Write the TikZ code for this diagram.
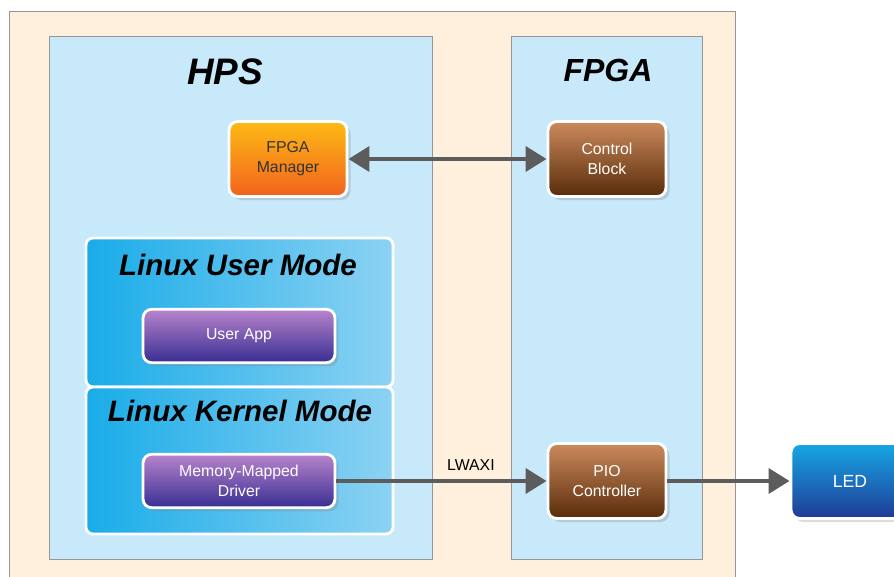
\documentclass[tikz,border=0pt]{standalone}
\usepackage{fontspec}
\setmainfont{Liberation Sans}
\usetikzlibrary{arrows.meta,shadows}
\definecolor{socbeige}{RGB}{254,240,221}
\definecolor{socsky}{RGB}{200,233,250}
\definecolor{socframe}{RGB}{150,150,150}
\definecolor{socarrow}{RGB}{92,92,92}
\definecolor{modeleft}{RGB}{25,172,232}
\definecolor{moderight}{RGB}{140,210,243}
\definecolor{mgrtop}{RGB}{253,186,20}
\definecolor{mgrbot}{RGB}{242,98,30}
\definecolor{fabtop}{RGB}{204,138,92}
\definecolor{fabbot}{RGB}{88,44,10}
\definecolor{apptop}{RGB}{184,132,204}
\definecolor{appmid}{RGB}{98,42,148}
\definecolor{appbot}{RGB}{56,46,146}
\definecolor{ledtop}{RGB}{22,168,228}
\definecolor{ledbot}{RGB}{32,58,150}

\begin{document}
\begin{tikzpicture}[x=0.02cm,y=-0.02cm,
  >={Triangle[length=12pt,width=14pt]},
  block/.style={rounded corners=5pt,draw=white,line width=1.6pt,
    minimum width=2.36cm,minimum height=1.5cm,align=center,
    text=white,font=\fontsize{9}{11.3}\selectfont,
    drop shadow={opacity=.28,shadow xshift=2pt,shadow yshift=-2pt}},
  wideblock/.style={block,minimum width=3.84cm,minimum height=1.07cm},
  title/.style={font=\bfseries\itshape\fontsize{#1}{#1}\selectfont},
  link/.style={socarrow,line width=2.8pt}]
  \path[use as bounding box,clip] (0,0) rectangle (894,577);
  % boards
  \fill[socbeige,draw=socframe] (9,11) rectangle (735,600);
  \fill[socsky,draw=socframe] (49,36) rectangle (432,559);
  \fill[socsky,draw=socframe] (511,36) rectangle (702,559);
  \node[title=21] (hps) at (225,72) {HPS};
  \node[title=18.2] (fpga) at (608,70) {FPGA};
  % linux modes
  \shade[left color=modeleft,right color=moderight,draw=white,
    line width=1.6pt,rounded corners=4pt] (86,238) rectangle (393,387);
  \shade[left color=modeleft,right color=moderight,draw=white,
    line width=1.6pt,rounded corners=4pt] (86,387) rectangle (393,534);
  \node[title=16.8] (user) at (238,265) {Linux User Mode};
  \node[title=16.8] (kernel) at (240,411) {Linux Kernel Mode};
  % blocks
  \node[block,top color=mgrtop,bottom color=mgrbot,text=black!80]
    (mgr) at (288,159) {FPGA\\Manager};
  \node[block,top color=fabtop,bottom color=fabbot]
    (ctrl) at (607,159) {Control\\Block};
  \node[wideblock,top color=apptop,middle color=appmid,bottom color=appbot]
    (app) at (239,336) {User App};
  \node[wideblock,top color=apptop,middle color=appmid,bottom color=appbot]
    (drv) at (239,481) {Memory-Mapped\\Driver};
  \node[block,top color=fabtop,bottom color=fabbot]
    (pio) at (607,481) {PIO\\Controller};
  \node[block,top color=ledtop,bottom color=ledbot,
    font=\fontsize{10}{12}\selectfont] (led) at (850,481) {LED};
  % links
  \draw[link,<->] (mgr) -- (ctrl);
  \draw[link,->] (drv) -- node[pos=.64,above=1pt,text=black,
    font=\fontsize{9}{11}\selectfont] (axi) {LWAXI} (pio);
  \draw[link,->] (pio) -- (led);
\end{tikzpicture}
\end{document}
